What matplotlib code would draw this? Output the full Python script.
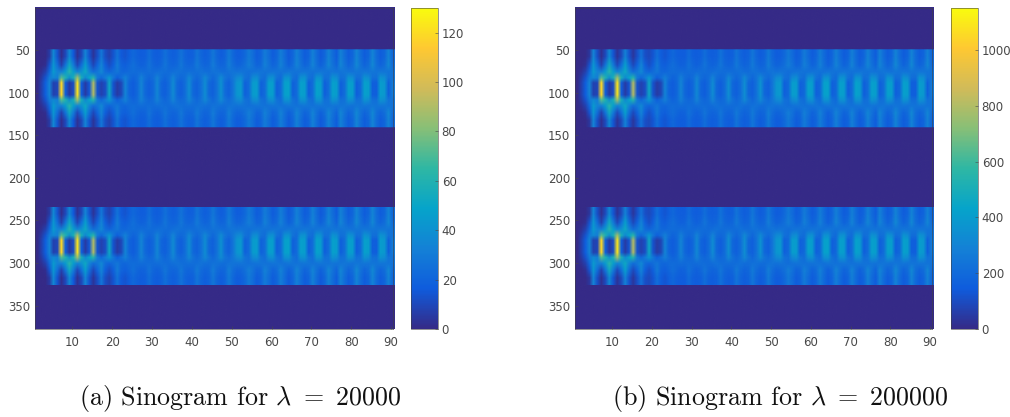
import numpy as np
import matplotlib
matplotlib.use('Agg')
import matplotlib.pyplot as plt
from matplotlib.colors import LinearSegmentedColormap, Normalize
from matplotlib.image import NonUniformImage

W, H = 1010, 417

parula_colors = ['#352A87', '#0F5CDD', '#1481D6', '#06A4CA', '#2EB7A4', '#87BF77', '#D1BB59', '#FEC832', '#F9FB0E']
parula = LinearSegmentedColormap.from_list('parula', parula_colors)

# lignes ou chaque profil est lu, pour une bande
band_rows = [49.4, 50, 58, 68, 76, 83, 89, 103, 109, 116, 124, 133, 141, 141.6]
band_shift = 185
n_rows = 377

# panneau (a) : une liste de 90 valeurs par tranche, du bord vers le centre
a_outer = [0,0,0,6,36,14,2,10,36,16, 3,10,34,14,4,12,28,12,8,14,
           26,16,14,18,22,19,17,18,24,19, 17,19,25,20,18,20,26,20,18,19,
           27,21,18,20,28,21,17,20,29,22, 17,18,22,29,24,17,20,30,24,17,
           21,31,23,16,21,32,24,17,20,32, 23,16,21,33,24,17,33,24,17,21,
           34,24,17,21,34,23,17,21,33,22]
a_upper = [0,0,2,14,42,24,8,26,52,30, 10,24,46,24,10,20,34,18,12,18,
           30,20,18,21,25,21,19,20,26,21, 19,21,27,22,20,22,28,22,20,22,
           29,23,20,22,30,23,20,22,31,24, 20,21,25,31,26,20,22,32,26,20,
           23,33,25,19,23,34,26,20,23,34, 25,19,24,35,26,20,35,26,20,24,
           36,26,20,24,36,25,20,24,35,24]
a_inner = [0,3,8,22,44,34,32,44,62,46, 34,40,52,34,24,28,36,24,20,24,
           28,22,21,23,24,23,24,23,24,23, 24,25,24,23,25,26,25,24,25,24,
           25,26,25,24,26,26,25,24,26,27, 26,27,26,25,26,27,27,26,26,27,
           27,26,26,28,27,26,27,28,27,26, 27,28,27,26,28,27,27,28,27,26,
           28,27,28,27,28,27,28,28,27,27]
a_ring = [0,6,14,30,36,32,72,60,40,56, 86,56,36,50,62,30,22,30,42,28,
          18,24,32,24,20,23,32,25,21,24, 33,25,21,25,34,25,22,25,35,26,
          22,26,36,27,22,27,37,27,23,28, 36,38,26,24,37,39,26,24,38,40,
          26,23,40,41,26,23,40,41,26,24, 41,40,25,26,41,38,25,26,41,38,
          25,26,41,38,25,25,41,38,26,27]
a_center = [0,8,18,34,8,10,118,18,5,12, 122,18,6,15,90,14,8,12,52,14,
            6,10,34,20,17,22,34,22,18,22, 35,21,18,24,37,22,18,24,38,22,
            19,25,38,22,19,26,40,23,19,27, 42,44,19,23,45,46,19,23,47,46,
            19,23,47,48,19,23,47,46,18,24, 48,46,18,24,47,46,18,24,47,46,
            18,23,47,46,18,18,46,43,19,30]

# panneau (b), moins bruite
b_outer = [0,0,0,40,300,110,20,90,320,130, 30,90,290,120,40,110,230,110,90,130,
           220,150,130,160,190,165,150,155,205,165, 150,165,215,170,155,170,225,175,155,170,
           235,180,155,175,245,180,150,175,255,190, 150,160,195,255,205,150,175,265,205,150,
           180,270,200,145,180,280,205,150,175,280, 200,145,180,285,205,150,285,205,150,180,
           295,205,150,180,295,200,150,180,285,190]
b_upper = [0,0,20,120,370,210,70,230,470,260, 90,210,410,210,90,170,300,160,110,160,
           260,175,155,185,215,185,165,175,225,185, 165,185,235,190,175,190,245,190,175,190,
           255,200,175,190,260,200,175,190,270,210, 175,185,220,270,225,175,190,280,225,175,
           200,285,215,165,200,295,225,175,200,295, 215,165,210,305,225,175,305,225,175,210,
           315,225,175,210,315,215,175,210,305,210]
b_inner = [0,25,70,190,390,300,280,390,550,410, 300,350,460,300,210,250,320,210,180,210,
           245,195,185,200,210,200,210,200,210,200, 210,215,210,200,215,225,215,210,215,210,
           215,225,215,210,225,225,215,210,225,235, 225,235,225,215,225,235,235,225,225,235,
           235,225,225,245,235,225,235,245,235,225, 235,245,235,225,245,235,235,245,235,225,
           245,235,245,235,245,235,245,245,235,235]
b_ring = [0,50,120,260,320,280,640,530,350,500, 760,500,320,440,550,260,190,260,370,250,
          160,210,280,210,175,200,280,215,185,210, 290,215,185,215,295,215,190,215,305,225,
          190,225,315,235,190,235,320,235,200,245, 320,335,225,210,320,345,225,210,335,355,
          225,200,350,360,225,200,350,360,225,210, 360,350,215,225,360,335,215,225,360,335,
          215,225,360,335,215,215,360,335,225,235]
b_center = [0,70,155,300,70,85,1050,160,45,105, 1090,160,50,130,800,120,70,105,460,120,
            50,85,300,175,150,190,300,190,155,190, 315,180,155,210,330,190,155,210,340,190,
            165,215,340,190,165,225,355,195,165,240, 370,390,165,195,400,405,165,195,415,405,
            165,195,415,425,165,195,415,405,160,210, 425,405,160,210,415,405,160,210,415,405,
            160,195,415,405,160,160,405,380,165,260]

a_cbar_ticks = [0, 20, 40, 60, 80, 100, 120]
b_cbar_ticks = [0, 200, 400, 600, 800, 1000]
x_ticks = list(range(10, 100, 10))
y_ticks = list(range(50, 400, 50))
a_vmax = 130
b_vmax = 1150
text_col = '#484848'


def build(outer, upper, inner, ring, center):
    empty = [0] * 90
    band = [empty, outer, outer, upper, inner, ring, center, center, ring, inner, upper, outer, outer, empty]
    table = np.array([empty] + band + band + [empty], dtype=float)
    rows = [0.5] + band_rows + [r + band_shift for r in band_rows] + [n_rows + 0.5]
    return table, np.array(rows)


def panel(left, right, cb_left, cb_right, table, rows, vmax, cticks, caption, cap_x):
    top, bottom = 8, 329
    ax = fig.add_axes([left / W, 1 - bottom / H, (right - left) / W, (bottom - top) / H])
    im = NonUniformImage(ax, interpolation='bilinear', cmap=parula, norm=Normalize(0, vmax))
    im.set_data(np.arange(1, 91), rows, table)
    ax.add_image(im)
    ax.set_xlim(0.5, 90.5)
    ax.set_ylim(n_rows + 0.5, 0.5)
    ax.set_xticks(x_ticks)
    ax.set_yticks(y_ticks)
    ax.tick_params(direction='in', length=2.5, width=0.4, labelsize=8.5, colors=text_col, pad=3)
    ax.tick_params(axis='x', pad=5)
    for s in ax.spines.values():
        s.set_linewidth(0.4)
        s.set_color('#404040')
    cax = fig.add_axes([cb_left / W, 1 - bottom / H, (cb_right - cb_left) / W, (bottom - top) / H])
    cb = fig.colorbar(im, cax=cax)
    cb.set_ticks(cticks)
    cb.ax.tick_params(direction='in', length=2, width=0.4, labelsize=8.5, colors=text_col, pad=3)
    cb.outline.set_linewidth(0.4)
    cb.outline.set_edgecolor('#404040')
    fig.text(cap_x / W, 1 - 398 / H, caption, ha='center', va='center', fontsize=18.7,
             family='cmr10', color='#111111')


plt.rcParams['mathtext.fontset'] = 'cm'
plt.rcParams['axes.unicode_minus'] = False
fig = plt.figure(figsize=(W / 100, H / 100), dpi=100)

table_a, rows_a = build(a_outer, a_upper, a_inner, a_ring, a_center)
table_b, rows_b = build(b_outer, b_upper, b_inner, b_ring, b_center)
panel(34.5, 393, 411, 437.5, table_a, rows_a, a_vmax, a_cbar_ticks, r'(a) Sinogram for $\lambda\ =\ 20000$', 240)
panel(574.5, 932, 951, 977.5, table_b, rows_b, b_vmax, b_cbar_ticks, r'(b) Sinogram for $\lambda\ =\ 200000$', 780)

fig.savefig('out.png', dpi=100)
